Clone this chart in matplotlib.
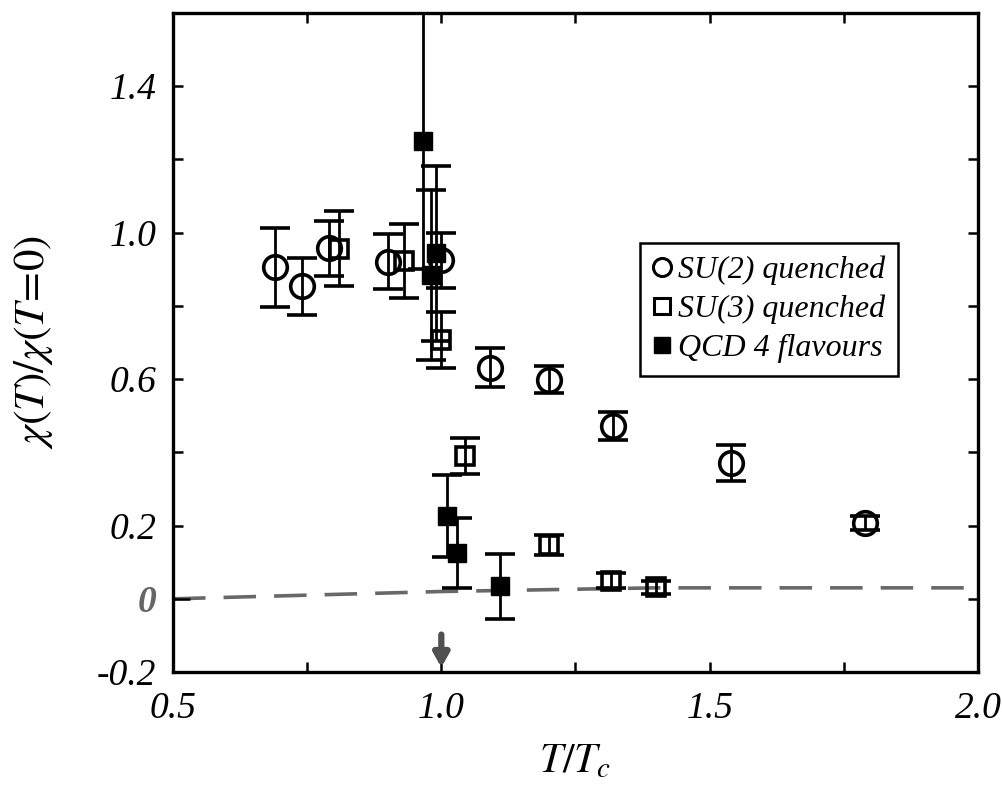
import numpy as np
import matplotlib
matplotlib.use("Agg")
import matplotlib.pyplot as plt
from matplotlib.lines import Line2D

# values
su2_x = [0.69, 0.74, 0.79, 0.90, 1.00, 1.09, 1.20, 1.32, 1.54, 1.79]
su2_y = [0.905, 0.853, 0.957, 0.921, 0.924, 0.631, 0.598, 0.472, 0.372, 0.207]
su2_err = [0.108, 0.077, 0.075, 0.074, 0.075, 0.053, 0.037, 0.037, 0.049, 0.02]

su3_x = [0.81, 0.93, 1.00, 1.045, 1.20, 1.316, 1.40]
su3_y = [0.956, 0.923, 0.707, 0.389, 0.147, 0.05, 0.032]
su3_err = [0.103, 0.101, 0.077, 0.049, 0.027, 0.02, 0.018]

qcd_x = [0.965, 0.98, 0.99, 1.01, 1.03, 1.11]
qcd_y = [1.25, 0.884, 0.943, 0.225, 0.125, 0.034]
qcd_err = [0.35, 0.232, 0.24, 0.112, 0.095, 0.089]

# hand drawn zero line
zero_x = [0.5, 1.0, 1.4, 2.0]
zero_y = [0.0, 0.02, 0.03, 0.03]

yticks = [-0.2, 0.0, 0.2, 0.4, 0.6, 0.8, 1.0, 1.2, 1.4]
ylabels = ['-0.2', '0', '0.2', '', '0.6', '', '1.0', '', '1.4']
xticks = [0.5, 0.75, 1.0, 1.25, 1.5, 1.75, 2.0]
xlabels = ['0.5', '', '1.0', '', '1.5', '', '2.0']

plt.rcParams['font.family'] = ['Liberation Serif', 'DejaVu Serif']
plt.rcParams['mathtext.fontset'] = 'stix'

fig = plt.figure(figsize=(10.03, 8.02), dpi=100)
ax = fig.add_axes([0.1725, 0.162, 0.8025, 0.822])

ax.plot(zero_x, zero_y, color='#686868', lw=2.6, dashes=(9, 5), zorder=1)

eb = dict(fmt='none', ecolor='black', elinewidth=2.0, capsize=11, capthick=2.6, zorder=2)
ax.errorbar(su2_x, su2_y, yerr=su2_err, **eb)
ax.errorbar(su3_x, su3_y, yerr=su3_err, **eb)
ax.errorbar(qcd_x, qcd_y, yerr=qcd_err, **eb)

ax.plot(su2_x, su2_y, 'o', ms=17, mfc='none', mec='black', mew=2.6, ls='none', zorder=3)
ax.plot(su3_x, su3_y, 's', ms=12.5, mfc='none', mec='black', mew=2.6, ls='none', zorder=3)
ax.plot(qcd_x, qcd_y, 's', ms=13, mfc='black', mec='black', ls='none', zorder=4)

# grey arrow marking Tc
ax.annotate('', xy=(1.0, -0.195), xytext=(1.0, -0.09),
            arrowprops=dict(arrowstyle='-|>,head_width=0.45,head_length=0.8',
                            color='#505050', lw=4.5), zorder=5)

ax.set_xlim(0.5, 2.0)
ax.set_ylim(-0.2, 1.6)
ax.set_xticks(xticks)
ax.set_xticklabels(xlabels)
ax.set_yticks(yticks)
ax.set_yticklabels(ylabels)
ax.tick_params(direction='in', length=7, width=1.8, top=True, right=True,
               labelsize=27)
ax.tick_params(axis='x', pad=14)
ax.tick_params(axis='y', pad=12)
for lab in ax.get_xticklabels() + ax.get_yticklabels():
    lab.set_fontstyle('italic')
zl = ax.get_yticklabels()[1]
zl.set_color('#666666')
zl.set_fontweight('bold')
ax.yaxis.get_major_ticks()[1].tick1line.set_color('#777777')
ax.yaxis.get_major_ticks()[1].tick1line.set_markersize(12)

for s in ax.spines.values():
    s.set_linewidth(2.4)

ax.set_xlabel(r'$T/T_c$', fontsize=30, labelpad=12)
ax.set_ylabel(r'$\chi(T)/\chi(T\!=\!0)$', fontsize=31, labelpad=30)

handles = [
    Line2D([], [], marker='o', ls='none', ms=13, mfc='none', mec='black', mew=2.2),
    Line2D([], [], marker='s', ls='none', ms=12, mfc='none', mec='black', mew=2.2),
    Line2D([], [], marker='s', ls='none', ms=12, mfc='black', mec='black'),
]
leg = ax.legend(handles, ['SU(2) quenched', 'SU(3) quenched', 'QCD 4 flavours'],
                loc='upper left', bbox_to_anchor=(0.56, 0.675),
                prop={'style': 'italic', 'size': 23},
                handlelength=0.6, handletextpad=0.2, labelspacing=0.3,
                borderpad=0.4, fancybox=False, framealpha=1, edgecolor='black')
leg.get_frame().set_linewidth(1.8)

fig.savefig('out.png', dpi=100)
